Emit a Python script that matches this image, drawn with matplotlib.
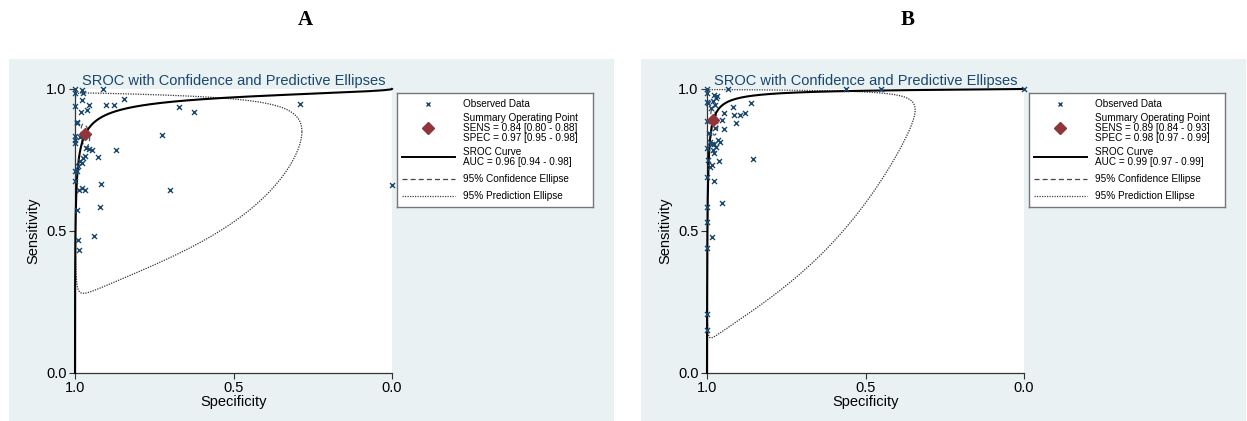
import matplotlib
matplotlib.use("Agg")

import matplotlib.pyplot as plt
import numpy as np

plt.rcParams["font.family"] = ["Liberation Sans", "DejaVu Sans"]

W, H = 1247, 421

# observed studies, panel A (specificity, sensitivity)
spec_a = [1.000, 1.000, 0.979, 0.976, 0.912, 0.979, 1.000, 0.955, 0.961, 0.981,
          0.902, 0.876, 0.844, 0.671, 0.626, 0.290, 0.995, 1.000, 1.000, 0.984,
          0.726, 0.965, 0.955, 0.945, 0.870, 0.929, 0.974, 0.984, 0.979, 0.968,
          0.989, 1.000, 0.993, 1.000, 0.986, 0.979, 0.968, 0.919, 0.701, 0.000,
          0.993, 0.921, 0.939, 0.992, 0.986, 0.993, 1.000]
sens_a = [1.000, 0.986, 0.998, 0.986, 1.000, 0.960, 0.939, 0.945, 0.925, 0.918,
          0.945, 0.945, 0.966, 0.937, 0.918, 0.947, 0.883, 0.833, 0.822, 0.831,
          0.839, 0.792, 0.789, 0.786, 0.786, 0.761, 0.757, 0.745, 0.739, 0.763,
          0.728, 0.710, 0.710, 0.675, 0.646, 0.651, 0.646, 0.665, 0.646, 0.663,
          0.575, 0.585, 0.484, 0.469, 0.434, 0.881, 0.810]

# observed studies, panel B
spec_b = [1.000, 0.935, 0.561, 0.451, 0.000, 0.977, 0.972, 0.969, 0.982, 0.998,
          0.975, 0.987, 0.919, 0.945, 0.914, 0.895, 0.880, 0.861, 0.954, 0.908,
          0.975, 0.947, 0.993, 0.989, 0.985, 0.977, 0.966, 0.958, 0.972, 0.982,
          0.977, 1.000, 0.961, 0.998, 0.985, 0.989, 1.000, 0.979, 0.856, 0.954,
          1.000, 1.000, 0.984, 1.000, 1.000, 1.000, 1.000, 1.000, 1.000]
sens_b = [1.000, 1.000, 1.000, 1.000, 1.000, 0.979, 0.967, 0.975, 0.959, 0.952,
          0.944, 0.932, 0.936, 0.917, 0.909, 0.909, 0.914, 0.952, 0.891, 0.879,
          0.862, 0.858, 0.844, 0.814, 0.806, 0.806, 0.821, 0.814, 0.797, 0.785,
          0.774, 0.791, 0.748, 0.750, 0.732, 0.724, 0.689, 0.677, 0.754, 0.597,
          0.583, 0.532, 0.478, 0.440, 0.209, 0.150, 0.953, 0.886, 0.986]

# summary operating points
summary_sens = [0.84, 0.89]
summary_spec = [0.97, 0.98]

# SROC curve: logit(sens) = intercept + slope * logit(1 - spec)
sroc_intercept = [3.5, 5.1]
sroc_slope = [0.54, 0.77]

# ellipse half widths in logit space (fpr, sens) and correlation
conf_ellipse = [(0.45, 0.30, -0.3), (0.55, 0.45, -0.3)]
pred_ellipse = [(4.40, 2.60, 0.03), (4.54, 4.05, 0.11)]

legend_texts = [
    ["Observed Data",
     "Summary Operating Point\nSENS = 0.84 [0.80 - 0.88]\nSPEC = 0.97 [0.95 - 0.98]",
     "SROC Curve\nAUC = 0.96 [0.94 - 0.98]",
     "95% Confidence Ellipse",
     "95% Prediction Ellipse"],
    ["Observed Data",
     "Summary Operating Point\nSENS = 0.89 [0.84 - 0.93]\nSPEC = 0.98 [0.97 - 0.99]",
     "SROC Curve\nAUC = 0.99 [0.97 - 0.99]",
     "95% Confidence Ellipse",
     "95% Prediction Ellipse"],
]
panel_labels = ["A", "B"]

BG = "#e9f1f3"
NAVY = "#1a476f"
RED = "#90353b"


def logit(p):
    return np.log(p / (1 - p))


def expit(x):
    return 1 / (1 + np.exp(-x))


def px_axes(fig, x0, y0, x1, y1, **kw):
    "add axes from pixel box (top-left origin)"
    return fig.add_axes([x0 / W, 1 - y1 / H, (x1 - x0) / W, (y1 - y0) / H], **kw)


def ellipse(mx, my, sx, sy, rho, n=600):
    t = np.linspace(0, 2 * np.pi, n)
    lx = mx + sx * np.cos(t)
    ly = my + sy * (rho * np.cos(t) + np.sqrt(1 - rho ** 2) * np.sin(t))
    return 1 - expit(lx), expit(ly)


def draw_panel(fig, i, off, label_x):
    # grey-blue graph region
    bg = px_axes(fig, 9 + off, 59, 614 + off, 421)
    bg.set_facecolor(BG)
    bg.set_xticks([])
    bg.set_yticks([])
    for s in bg.spines.values():
        s.set_visible(False)

    fig.text(label_x / W, 1 - 20 / H, panel_labels[i],
             family="Liberation Serif", weight="bold", fontsize=15,
             ha="center", va="center")

    ax = px_axes(fig, 75 + off, 89, 392 + off, 373)
    ax.set_facecolor("white")
    ax.set_xlim(1, 0)
    ax.set_ylim(0, 1)
    for s in ["top", "right"]:
        ax.spines[s].set_visible(False)
    for s in ["left", "bottom"]:
        ax.spines[s].set_color("#333333")
        ax.spines[s].set_linewidth(0.9)
    ax.set_xticks([1.0, 0.5, 0.0])
    ax.set_yticks([0.0, 0.5, 1.0])
    ax.set_xticklabels(["1.0", "0.5", "0.0"])
    ax.set_yticklabels(["0.0", "0.5", "1.0"])
    ax.tick_params(length=4, width=0.8, labelsize=10.5, pad=2, color="#333333")
    ax.set_xlabel("Specificity", fontsize=10.5, labelpad=0)
    ax.set_ylabel("Sensitivity", fontsize=10.5, labelpad=4)
    ax.set_title("SROC with Confidence and Predictive Ellipses",
                 color=NAVY, fontsize=10.5, pad=3)

    mx = logit(1 - summary_spec[i])
    my = logit(summary_sens[i])

    # SROC curve
    fpr = np.logspace(-9, 0, 800)[:-1]
    fpr = np.concatenate([fpr, 1 - np.logspace(-2, -9, 200)])
    sens = expit(sroc_intercept[i] + sroc_slope[i] * logit(fpr))
    ax.plot(1 - fpr, sens, color="black", lw=1.5, clip_on=False, zorder=3)

    # ellipses
    ex, ey = ellipse(mx, my, *pred_ellipse[i])
    ax.plot(ex, ey, color="#333333", lw=0.9, ls=(0, (1, 1)), zorder=2)
    ex, ey = ellipse(mx, my, *conf_ellipse[i])
    ax.plot(ex, ey, color="#555555", lw=0.9, ls=(0, (4, 2.5)), zorder=2)

    spec = spec_a if i == 0 else spec_b
    sens_obs = sens_a if i == 0 else sens_b
    ax.scatter(spec, sens_obs, marker="x", s=13, color=NAVY, lw=1,
               clip_on=False, zorder=4)
    ax.plot(summary_spec[i], summary_sens[i], marker="D", ms=6.5,
            color=RED, zorder=5, clip_on=False)

    # legend box
    lg = px_axes(fig, 397 + off, 93, 593 + off, 207)
    lg.set_xlim(0, 196)
    lg.set_ylim(114, 0)
    lg.set_xticks([])
    lg.set_yticks([])
    for s in lg.spines.values():
        s.set_color("#777777")
        s.set_linewidth(1)
    tx = 66
    texts = legend_texts[i]
    lg.text(tx, 11, texts[0], fontsize=7.2, va="center")
    lg.plot([31], [11], marker="x", ms=3.5, mew=1, color=NAVY)
    lg.text(tx, 35, texts[1], fontsize=7.2, va="center", linespacing=0.95)
    lg.plot([31], [35], marker="D", ms=6, color=RED)
    lg.text(tx, 64, texts[2], fontsize=7.2, va="center", linespacing=0.95)
    lg.plot([5, 58], [64, 64], color="black", lw=1.4)
    lg.text(tx, 86, texts[3], fontsize=7.2, va="center")
    lg.plot([5, 58], [86, 86], color="#444444", lw=0.9, ls=(0, (4, 2.5)))
    lg.text(tx, 103, texts[4], fontsize=7.2, va="center")
    lg.plot([5, 58], [103, 103], color="#444444", lw=0.9, ls=(0, (1, 1)))


def main():
    fig = plt.figure(figsize=(W / 100, H / 100), dpi=100)
    draw_panel(fig, 0, 0, 305)
    draw_panel(fig, 1, 632, 908)
    fig.savefig("out.png", dpi=100)


if __name__ == "__main__":
    main()
